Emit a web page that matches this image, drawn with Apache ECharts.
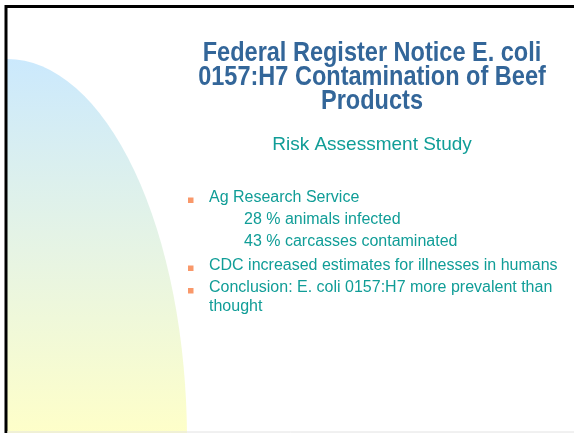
<!DOCTYPE html>
<html>
<head>
<meta charset="utf-8">
<script src="https://cdn.jsdelivr.net/npm/echarts@6/dist/echarts.min.js"></script>
<style>
html, body { margin: 0; padding: 0; background: #fff; }
#main { width: 574px; height: 433px; }
</style>
</head>
<body>
<div id="main"></div>
<script>
var dom = document.getElementById('main');
var myChart = echarts.init(dom, null, { renderer: 'canvas' });

// slide text
var titleLines = ['Federal Register Notice E. coli', '0157:H7 Contamination of Beef', 'Products'];
var subtitle = 'Risk Assessment Study';
var bodyLines = [
    'Ag Research Service',
    '28 % animals infected',
    '43 % carcasses contaminated',
    'CDC increased estimates for illnesses in humans',
    'Conclusion: E. coli 0157:H7 more prevalent than',
    'thought'
];
var bodyIndent = [0, 1, 1, 0, 0, 0];
var bodyBullet = [true, false, false, true, true, false];

// layout (px)
var FONT = '"Liberation Sans", Arial, sans-serif';
var titleBase = [63, 87, 111];
var bodyBase = [203, 225.5, 247.5, 271, 293.5, 312];
var indentX = [209, 244];

var elements = [];

// left decoration: quarter ellipse with blue -> yellow gradient
elements.push({
    type: 'sector',
    x: 7, y: 440,
    scaleY: 381 / 180,
    shape: { cx: 0, cy: 0, r0: 0, r: 180, startAngle: -Math.PI / 2, endAngle: 0, clockwise: true },
    style: {
        fill: new echarts.graphic.LinearGradient(0, 0, 0, 1, [
            { offset: 0, color: '#cbe9fd' },
            { offset: 0.5, color: '#e6f4e4' },
            { offset: 1, color: '#ffffc8' }
        ])
    },
    silent: true
});

// frame lines
elements.push({ type: 'line', shape: { x1: 5, y1: 6.5, x2: 574, y2: 6.5 }, style: { stroke: '#000', lineWidth: 3 } });
elements.push({ type: 'line', shape: { x1: 6, y1: 5, x2: 6, y2: 433 }, style: { stroke: '#000', lineWidth: 3 } });
elements.push({ type: 'line', shape: { x1: 7, y1: 432, x2: 574, y2: 432 }, style: { stroke: '#e2e2e2', lineWidth: 1 } });

// title
titleLines.forEach(function (t, i) {
    elements.push({
        type: 'text',
        x: 372, y: titleBase[i] - 10,
        scaleX: 0.84,
        style: {
            text: t,
            fill: '#336699',
            font: 'bold 28px ' + FONT,
            textAlign: 'center',
            textVerticalAlign: 'middle'
        }
    });
});

// subtitle
elements.push({
    type: 'text',
    x: 372, y: 152 - 7,
    style: {
        text: subtitle,
        fill: '#109d97',
        font: '19px ' + FONT,
        textAlign: 'center',
        textVerticalAlign: 'middle'
    }
});

// bullet body
bodyLines.forEach(function (t, i) {
    if (bodyBullet[i]) {
        elements.push({
            type: 'rect',
            shape: { x: 188, y: bodyBase[i] - 5.5, width: 5.5, height: 5.5 },
            style: { fill: '#f9986a' }
        });
    }
    elements.push({
        type: 'text',
        x: indentX[bodyIndent[i]], y: bodyBase[i] - 5.7,
        style: {
            text: t,
            fill: '#109d97',
            font: '16px ' + FONT,
            textAlign: 'left',
            textVerticalAlign: 'middle'
        }
    });
});

var option = {
    backgroundColor: '#ffffff',
    animation: false,
    graphic: { elements: elements }
};
myChart.setOption(option, true);
window.addEventListener('resize', function () {
    myChart.resize();
});
</script>
</body>
</html>
